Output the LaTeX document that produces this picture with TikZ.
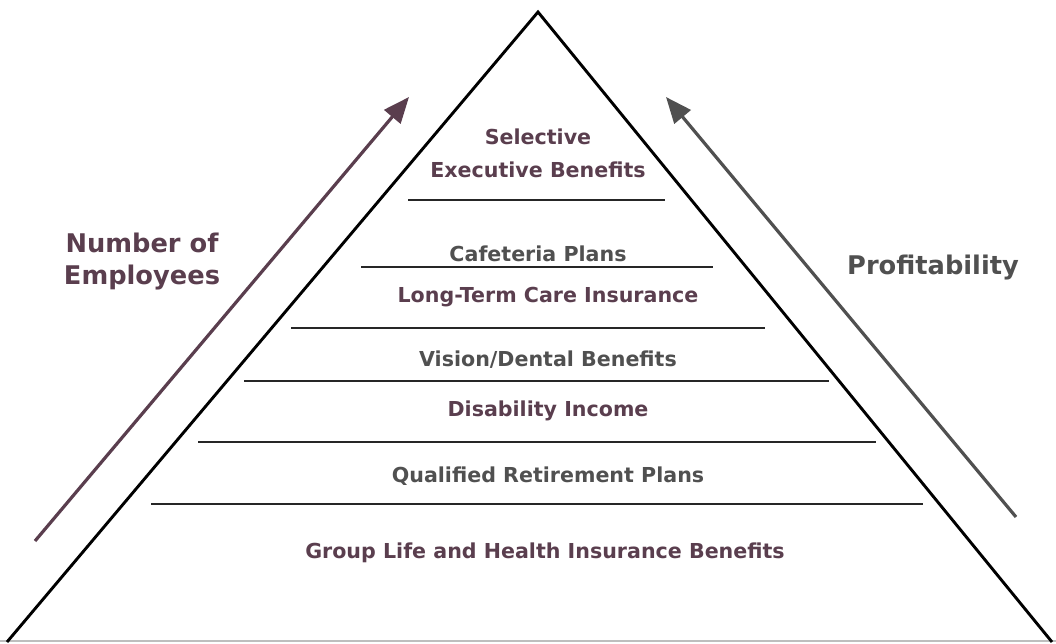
\documentclass[tikz,border=0pt]{standalone}
\usepackage{fontspec}
\setmainfont{DejaVu Sans}
\usetikzlibrary{arrows.meta}
\definecolor{plum}{RGB}{90,62,78}
\definecolor{dgray}{RGB}{80,80,80}
\definecolor{lgray}{RGB}{190,190,190}
\tikzset{
  lbl/.style={font=\bfseries\fontsize{20.6}{24}\selectfont, inner sep=0pt, anchor=center},
  plumtxt/.style={lbl, text=plum},
  graytxt/.style={lbl, text=dgray},
  side/.style={draw=black, line width=2.9pt},
  tier/.style={draw=black!85, line width=1.5pt},
  bigarrow/.style={line width=3.2pt, -{Triangle[length=26pt,width=21pt]}},
  sidelbl/.style={font=\bfseries\fontsize{25.7}{32}\selectfont, inner sep=0pt, align=center}
}
\begin{document}
\begin{tikzpicture}[x=1pt,y=-1pt]
\useasboundingbox (0,0) rectangle (1056,643);
% triangle
\coordinate (apex) at (538,12);
\coordinate (bl) at (7,642);
\coordinate (br) at (1052,642);
\coordinate (g1) at (0,641);
\coordinate (g2) at (1056,641);
\draw[lgray, line width=1.5pt] (g1) -- (g2);
\draw[side, line join=miter] (bl) -- (apex) -- (br);
% tier lines
\coordinate (l1a) at (408,200); \coordinate (l1b) at (665,200);
\coordinate (l2a) at (361,267); \coordinate (l2b) at (713,267);
\coordinate (l3a) at (291,328); \coordinate (l3b) at (765,328);
\coordinate (l4a) at (244,381); \coordinate (l4b) at (829,381);
\coordinate (l5a) at (198,442); \coordinate (l5b) at (876,442);
\coordinate (l6a) at (151,504); \coordinate (l6b) at (923,504);
\draw[tier] (l1a) -- (l1b);
\draw[tier] (l2a) -- (l2b);
\draw[tier] (l3a) -- (l3b);
\draw[tier] (l4a) -- (l4b);
\draw[tier] (l5a) -- (l5b);
\draw[tier] (l6a) -- (l6b);
% tier labels
\node[plumtxt] (t1a) at (538,137) {Selective};
\node[plumtxt] (t1b) at (538,170) {Executive Benefits};
\node[graytxt] (t2) at (538,254) {Cafeteria Plans};
\node[plumtxt] (t3) at (548,297) {Long-Term Care Insurance};
\node[graytxt] (t4) at (548,360) {Vision/Dental Benefits};
\node[plumtxt] (t5) at (548,411) {Disability Income};
\node[graytxt] (t6) at (548,476) {Qualified Retirement Plans};
\node[plumtxt] (t7) at (545,553) {Group Life and Health Insurance Benefits};
% arrows
\coordinate (la0) at (35,541); \coordinate (la1) at (409,97);
\coordinate (ra0) at (1016,517); \coordinate (ra1) at (666,97);
\draw[bigarrow, plum] (la0) -- (la1);
\draw[bigarrow, dgray] (ra0) -- (ra1);
\node[sidelbl, text=plum] (nemp) at (142,262) {Number of\\Employees};
\node[sidelbl, text=dgray] (prof) at (933,268) {Profitability};
\end{tikzpicture}
\end{document}
